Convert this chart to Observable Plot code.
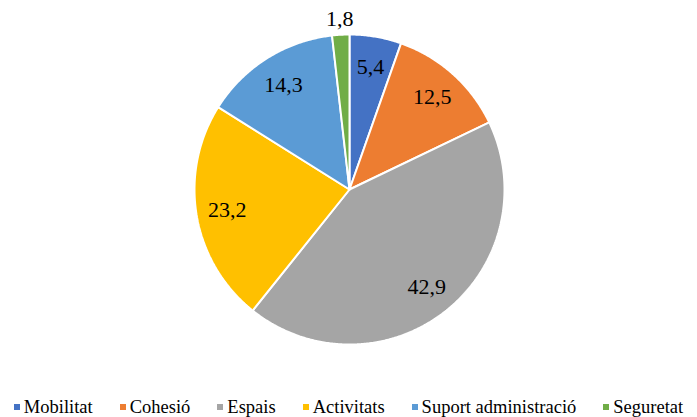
<!DOCTYPE html>
<html>
<head>
<meta charset="utf-8">
<script src="https://cdn.jsdelivr.net/npm/d3@7"></script>
<script src="https://cdn.jsdelivr.net/npm/@observablehq/plot@0.6"></script>
<style>
  html, body { margin: 0; padding: 0; background: #fff; font-family: "Liberation Serif", serif; }
  #chart { width: 697px; }
  #legend { display: flex; justify-content: center; font-size: 18.5px; color: #000; margin-top: 4px; line-height: 22px; }
  #legend .item { display: inline-flex; align-items: center; margin: 0 13.5px; }
  #legend .sw { width: 6px; height: 6px; margin-right: 4px; display: inline-block; }
</style>
</head>
<body>
<div id="chart"></div>
<script>
const categories = ["Mobilitat", "Cohesió", "Espais", "Activitats", "Suport administració", "Seguretat"];
const values = [5.4, 12.5, 42.9, 23.2, 14.3, 1.8];
const colors = ["#4472C4", "#ED7D31", "#A5A5A5", "#FFC000", "#5B9BD5", "#70AD47"];
const FONT = "Liberation Serif";

const total = d3.sum(values);
const slices = [];
const labels = [];
let cum = 0;
categories.forEach((name, i) => {
  const a0 = cum / total * 2 * Math.PI;
  cum += values[i];
  const a1 = cum / total * 2 * Math.PI;
  slices.push({name, x: 0, y: 0});
  const n = Math.max(2, Math.ceil((a1 - a0) / (Math.PI / 360)));
  for (let k = 0; k <= n; k++) {
    const a = a0 + (a1 - a0) * k / n;
    slices.push({name, x: Math.sin(a), y: Math.cos(a)});
  }
  slices.push({name, x: 0, y: 0});
  const am = (a0 + a1) / 2;
  const rr = values[i] < 3 ? 1.1 : 0.8;
  labels.push({name, x: Math.sin(am) * rr, y: Math.cos(am) * rr, text: values[i].toFixed(1).replace(".", ",")});
});

const plot = Plot.plot({
  width: 697,
  height: 392,
  marginLeft: 194,
  marginRight: 193,
  marginTop: 34,
  marginBottom: 48,
  x: {domain: [-1, 1], axis: null},
  y: {domain: [-1, 1], axis: null},
  color: {domain: categories, range: colors},
  style: {fontFamily: FONT, background: "#fff", overflow: "visible"},
  marks: [
    Plot.line(slices, {x: "x", y: "y", z: "name", fill: "name", stroke: "white", strokeWidth: 2, strokeLinejoin: "miter"}),
    Plot.text(labels, {x: "x", y: "y", text: "text", fontSize: 22, fontFamily: FONT, fill: "#000"})
  ]
});
document.getElementById("chart").appendChild(plot);

const color = plot.scale("color");
const legend = document.createElement("div");
legend.id = "legend";
categories.forEach(c => {
  const it = document.createElement("span");
  it.className = "item";
  const sw = document.createElement("span");
  sw.className = "sw";
  sw.style.background = color.apply(c);
  it.appendChild(sw);
  it.appendChild(document.createTextNode(c));
  legend.appendChild(it);
});
document.getElementById("chart").appendChild(legend);
</script>
</body>
</html>
